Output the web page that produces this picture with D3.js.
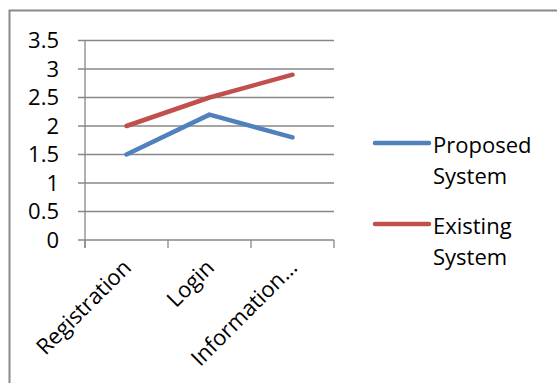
<!DOCTYPE html>
<html>
<head>
<meta charset="utf-8">
<script src="https://cdn.jsdelivr.net/npm/d3@7"></script>
<style>
  html, body { margin: 0; padding: 0; background: #fff; }
  svg { display: block; font-family: "Open Sans", sans-serif; }
</style>
</head>
<body>
<svg id="chart" width="557" height="383"></svg>
<script>
// Categories along the x axis
const categories = ["Registration", "Login", "Information…"];
// Series values
const proposedValues = [1.5, 2.2, 1.8];
const existingValues = [2.0, 2.5, 2.9];
const seriesNames = ["Proposed System", "Existing System"];
const seriesColors = ["#4F81BD", "#C0504D"];
// Y tick labels
const yTicks = [0, 0.5, 1, 1.5, 2, 2.5, 3, 3.5];

const series = [
  { name: seriesNames[0], values: proposedValues, color: seriesColors[0] },
  { name: seriesNames[1], values: existingValues, color: seriesColors[1] }
];

const svg = d3.select("#chart");
const plot = { left: 85, right: 334, top: 40.5, bottom: 240 };
const gridColor = "#878787";

// Outer chart border (continues past the bottom and right of the view)
svg.append("rect")
  .attr("x", 9.5).attr("y", 10.5)
  .attr("width", 600).attr("height", 420)
  .attr("fill", "none")
  .attr("stroke", "#8a8a8a")
  .attr("stroke-width", 2);

const x = d3.scaleBand().domain(categories).range([plot.left, plot.right]);
const y = d3.scaleLinear().domain([0, 3.5]).range([plot.bottom, plot.top]);

// Horizontal gridlines
svg.append("g")
  .selectAll("line")
  .data(yTicks)
  .join("line")
  .attr("x1", plot.left - 7).attr("x2", plot.right)
  .attr("y1", d => y(d)).attr("y2", d => y(d))
  .attr("stroke", gridColor)
  .attr("stroke-width", 1.3);

// Y axis line
svg.append("line")
  .attr("x1", plot.left).attr("x2", plot.left)
  .attr("y1", plot.top).attr("y2", plot.bottom + 8)
  .attr("stroke", gridColor).attr("stroke-width", 1.3);

// Y tick labels
svg.append("g")
  .selectAll("text")
  .data(yTicks)
  .join("text")
  .attr("x", 59)
  .attr("y", d => y(d))
  .attr("dy", "0.36em")
  .attr("text-anchor", "end")
  .attr("font-size", 22)
  .attr("fill", "#000")
  .text(d => d3.format("~g")(d));

// X axis ticks at category boundaries
const boundaries = categories.map(c => x(c)).concat([plot.right]);
svg.append("g")
  .selectAll("line")
  .data(boundaries)
  .join("line")
  .attr("x1", d => d).attr("x2", d => d)
  .attr("y1", plot.bottom).attr("y2", plot.bottom + 8)
  .attr("stroke", gridColor).attr("stroke-width", 1.3);

// Rotated category labels
svg.append("g")
  .selectAll("text")
  .data(categories)
  .join("text")
  .attr("transform", d => `translate(${x(d) + x.bandwidth() / 2 + 6},269) rotate(-45)`)
  .attr("text-anchor", "end")
  .attr("font-size", 22)
  .attr("fill", "#000")
  .text(d => d);

// Series lines
const line = d3.line()
  .x((d, i) => x(categories[i]) + x.bandwidth() / 2)
  .y(d => y(d));

svg.append("g")
  .selectAll("path")
  .data(series)
  .join("path")
  .attr("d", d => line(d.values))
  .attr("fill", "none")
  .attr("stroke", d => d.color)
  .attr("stroke-width", 4.5)
  .attr("stroke-linecap", "round")
  .attr("stroke-linejoin", "round");

// Legend
const legend = svg.append("g")
  .selectAll("g")
  .data(series)
  .join("g")
  .attr("transform", (d, i) => `translate(0,${143 + i * 81})`);

legend.append("line")
  .attr("x1", 375).attr("x2", 429)
  .attr("y1", 0).attr("y2", 0)
  .attr("stroke", d => d.color)
  .attr("stroke-width", 4.5)
  .attr("stroke-linecap", "round");

legend.append("text")
  .attr("font-size", 22)
  .attr("fill", "#000")
  .selectAll("tspan")
  .data(d => d.name.split(" "))
  .join("tspan")
  .attr("x", 433)
  .attr("y", (d, i) => 10 + i * 31)
  .text(d => d);
</script>
</body>
</html>
